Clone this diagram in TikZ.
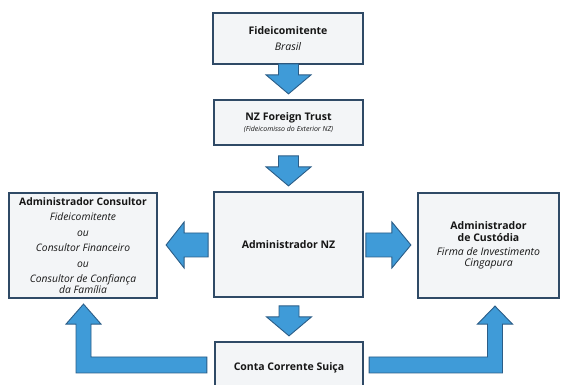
\documentclass[tikz,border=0pt]{standalone}
\usepackage{fontspec}
\setmainfont{Open Sans}
\usepackage{tikz}
\usetikzlibrary{calc}
\definecolor{boxfill}{HTML}{F3F5F7}
\definecolor{boxline}{HTML}{2F4A66}
\definecolor{arrowblue}{HTML}{3F9BD8}
\definecolor{arrowline}{HTML}{2B5D87}
\definecolor{textgray}{HTML}{161616}
\tikzset{
  entity/.style={draw=boxline, fill=boxfill, line width=2.2pt, align=center, text=textgray, inner sep=2pt},
  blockarrow/.style={draw=arrowline, fill=arrowblue, line width=0.9pt, line join=miter},
}
% vertical block arrow ending just above a node
\newcommand{\arrowdown}[1]{%
  \draw[blockarrow] ($(#1.north)+(0,5)$) -- ++(22.5,19) -- ++(-12.5,0) -- ++(0,11)
    -- ++(-20,0) -- ++(0,-11) -- ++(-12.5,0) -- cycle;}

\begin{document}
\begin{tikzpicture}[x=1pt, y=1pt]
  \clip (0,0) rectangle (563,385);

  % Boxes
  \node[entity, minimum width=150, minimum height=51, font=\fontsize{10.5}{14}\selectfont] (fid) at (288,346.5)
    {{\bfseries Fideicomitente}\\[2pt]{\itshape Brasil}};
  \node[entity, minimum width=149, minimum height=45, font=\fontsize{10.5}{14}\selectfont] (trust) at (288.5,262.5)
    {{\bfseries NZ Foreign Trust}\\[-3pt]{\fontsize{7}{8}\selectfont\itshape (Fideicomisso do Exterior NZ)}};
  \node[entity, minimum width=149, minimum height=105, font=\fontsize{10.5}{14}\selectfont\bfseries] (admnz) at (288.5,140.5)
    {Administrador NZ};
  \node[entity, minimum width=148, minimum height=52, font=\fontsize{10.5}{14}\selectfont\bfseries] (conta) at (289,17)
    {Conta Corrente Suiça};
  \node[entity, minimum width=148, minimum height=105, font=\fontsize{10.3}{15.5}\selectfont] (cons) at (83,139.5)
    {{\bfseries Administrador Consultor}\\{\itshape Fideicomitente}\\{\itshape ou}\\{\itshape Consultor Financeiro}\\{\itshape ou}\\{\itshape Consultor de Confiança}\\[-4.5pt]{\itshape da Família}};
  \node[entity, minimum width=141, minimum height=105, font=\fontsize{10.5}{11.5}\selectfont] (cust) at (488.5,139.5)
    {{\bfseries Administrador}\\{\bfseries de Custódia}\\[2.5pt]{\itshape Firma de Investimento}\\{\itshape Cingapura}};

  % Straight arrows
  \arrowdown{trust}
  \arrowdown{admnz}
  \arrowdown{conta}
  \draw[blockarrow] ($(cons.east)+(8,0.5)$) -- ++(18,23) -- ++(0,-11) -- ++(24,0) -- ++(0,-24)
    -- ++(-24,0) -- ++(0,-11) -- cycle;
  \draw[blockarrow] ($(cust.west)+(-6,0.5)$) -- ++(-19,23) -- ++(0,-11) -- ++(-26,0) -- ++(0,-24)
    -- ++(26,0) -- ++(0,-11) -- cycle;

  % L-shaped arrows
  \coordinate (ltip) at ($(cons.south)+(0.5,-5)$);
  \coordinate (lend) at ($(conta.west)+(-7,3)$);
  \draw[blockarrow] ($(lend)+(0,8)$) -| ($(ltip)+(7.5,-20)$) -- ++(10,0) -- (ltip)
    -- ++(-17.5,-20) -- ++(10,0) |- ($(lend)+(0,-8)$) -- cycle;
  \coordinate (rtip) at ($(cust.south)+(6.5,-7)$);
  \coordinate (rend) at ($(conta.east)+(5,3)$);
  \draw[blockarrow] ($(rend)+(0,8)$) -| ($(rtip)+(-7.5,-18)$) -- ++(-10,0) -- (rtip)
    -- ++(17.5,-18) -- ++(-10,0) |- ($(rend)+(0,-8)$) -- cycle;
\end{tikzpicture}
\end{document}
